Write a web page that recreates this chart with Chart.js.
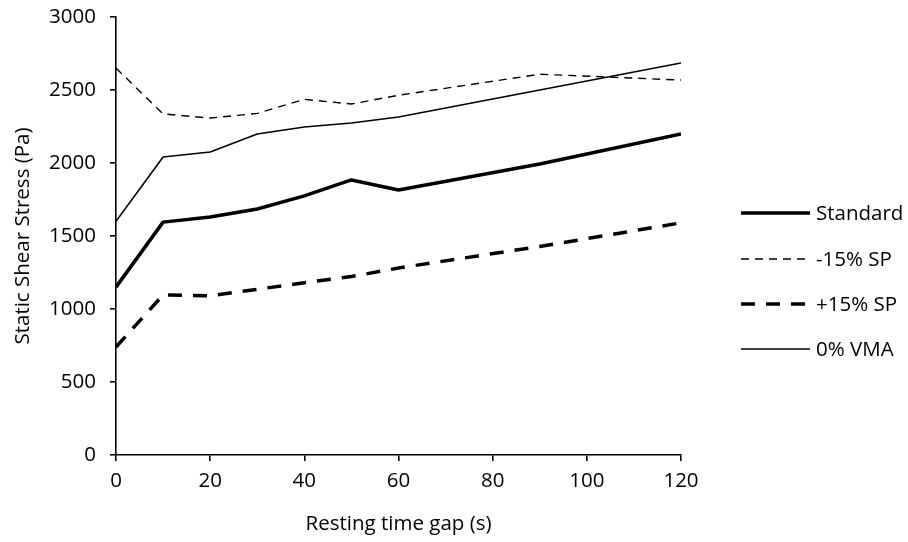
<!DOCTYPE html>
<html>
<head>
<meta charset="utf-8">
<script src="https://cdn.jsdelivr.net/npm/chart.js@4.4.1/dist/chart.umd.min.js"></script>
<style>
  html, body { margin: 0; padding: 0; background: #fff; }
  #wrap { width: 908px; height: 542px; position: relative; }
</style>
</head>
<body>
<div id="wrap"><canvas id="chart"></canvas></div>
<script>
// --- data ---
const restTimes = [0, 10, 20, 30, 40, 50, 60, 90, 120];
const standard = [1150, 1595, 1630, 1685, 1775, 1884, 1815, 1993, 2199];
const minus15SP = [2650, 2336, 2308, 2340, 2436, 2404, 2464, 2608, 2568];
const plus15SP = [740, 1096, 1090, 1135, 1180, 1222, 1281, 1428, 1590];
const vma0 = [1600, 2041, 2075, 2199, 2247, 2274, 2315, 2500, 2685];
const xTicks = [0, 20, 40, 60, 80, 100, 120];
const yTicks = [0, 500, 1000, 1500, 2000, 2500, 3000];

const FONT = '"Open Sans", "DejaVu Sans", sans-serif';
const FSIZE = 20.5;

const toPoints = arr => arr.map((v, i) => ({ x: restTimes[i], y: v }));

const seriesDefs = [
    { label: 'Standard', data: standard, width: 3.5, dash: [] },
    { label: '-15% SP', data: minus15SP, width: 1.4, dash: [8, 6] },
    { label: '+15% SP', data: plus15SP, width: 3.5, dash: [14, 11] },
    { label: '0% VMA', data: vma0, width: 1.6, dash: [] }
];

const datasets = seriesDefs.map(s => ({
    label: s.label,
    data: toPoints(s.data),
    borderColor: '#000',
    borderWidth: s.width,
    borderDash: s.dash,
    borderCapStyle: 'butt',
    borderJoinStyle: 'round',
    pointRadius: 0,
    fill: false,
    tension: 0
}));

// legend drawn at the right, like the spreadsheet original
const sideLegend = {
    id: 'sideLegend',
    afterDraw(chart) {
        const ctx = chart.ctx;
        const x0 = 741, x1 = 810, tx = 816;
        const rows = [213, 259, 304, 349];
        ctx.save();
        chart.data.datasets.forEach((ds, i) => {
            const y = rows[i];
            ctx.beginPath();
            ctx.strokeStyle = ds.borderColor;
            ctx.lineWidth = ds.borderWidth;
            ctx.setLineDash(ds.borderDash || []);
            ctx.moveTo(x0, y);
            ctx.lineTo(x1, y);
            ctx.stroke();
            ctx.setLineDash([]);
            ctx.fillStyle = '#000';
            ctx.font = FSIZE + 'px ' + FONT;
            ctx.textBaseline = 'middle';
            ctx.fillText(ds.label, tx, y + 1);
        });
        ctx.restore();
    }
};

new Chart(document.getElementById('chart'), {
    type: 'line',
    data: { datasets },
    options: {
        responsive: true,
        maintainAspectRatio: false,
        animation: false,
        layout: { padding: { top: 17, right: 227, bottom: 0, left: 0 } },
        plugins: { legend: { display: false }, tooltip: { enabled: false } },
        scales: {
            x: {
                type: 'linear',
                min: 0, max: 120,
                afterBuildTicks: scale => { scale.ticks = xTicks.map(v => ({ value: v })); },
                afterFit: scale => { scale.height = 87; scale.paddingLeft = 0; scale.paddingRight = 0; },
                border: { display: true, color: '#000', width: 1.6 },
                grid: { display: true, drawOnChartArea: false, drawTicks: true, tickLength: 6, color: '#000', lineWidth: 1.6 },
                ticks: { color: '#000', font: { family: FONT, size: FSIZE }, padding: 8, maxRotation: 0, callback: v => String(v) },
                title: { display: true, text: 'Resting time gap (s)', color: '#000', font: { family: FONT, size: FSIZE }, padding: { top: 4, bottom: 6 } }
            },
            y: {
                type: 'linear',
                min: 0, max: 3000,
                afterBuildTicks: scale => { scale.ticks = yTicks.map(v => ({ value: v })); },
                afterFit: scale => { scale.width = 116; scale.paddingTop = 0; scale.paddingBottom = 0; },
                border: { display: true, color: '#000', width: 1.6 },
                grid: { display: true, drawOnChartArea: false, drawTicks: true, tickLength: 6, color: '#000', lineWidth: 1.6 },
                ticks: { color: '#000', font: { family: FONT, size: FSIZE }, padding: 14, callback: v => String(v) },
                title: { display: true, text: 'Static Shear Stress (Pa)', color: '#000', font: { family: FONT, size: FSIZE }, padding: { top: 11, bottom: 6 } }
            }
        }
    },
    plugins: [sideLegend]
});
</script>
</body>
</html>
